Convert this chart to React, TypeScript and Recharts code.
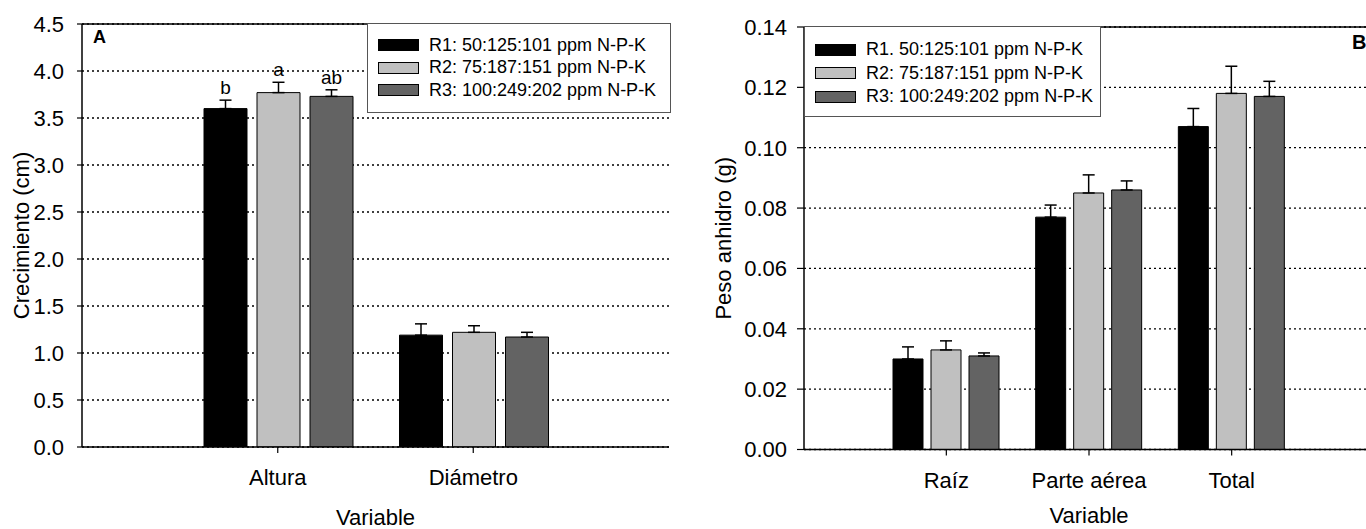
import {
  BarChart,
  Bar,
  XAxis,
  YAxis,
  CartesianGrid,
  ErrorBar,
  Legend,
  LabelList,
  ReferenceLine,
  Label,
} from 'recharts';

const FONT = '"Liberation Sans", Arial, Helvetica, sans-serif';
const COLORS = ['#000000', '#c0c0c0', '#636363'];

// Panel A: crecimiento
const variablesA = ['Altura', 'Diámetro'];
const r1A = [3.6, 1.19];
const r2A = [3.77, 1.22];
const r3A = [3.73, 1.17];
const r1AErr = [0.09, 0.12];
const r2AErr = [0.11, 0.07];
const r3AErr = [0.07, 0.05];
const r1ASig = ['b', ''];
const r2ASig = ['a', ''];
const r3ASig = ['ab', ''];
const ticksA = [0, 0.5, 1, 1.5, 2, 2.5, 3, 3.5, 4, 4.5];
const namesA = ['R1: 50:125:101 ppm N-P-K', 'R2: 75:187:151 ppm N-P-K', 'R3: 100:249:202 ppm N-P-K'];

// Panel B: peso anhidro
const variablesB = ['Raíz', 'Parte aérea', 'Total'];
const r1B = [0.03, 0.077, 0.107];
const r2B = [0.033, 0.085, 0.118];
const r3B = [0.031, 0.086, 0.117];
const r1BErr = [0.004, 0.004, 0.006];
const r2BErr = [0.003, 0.006, 0.009];
const r3BErr = [0.001, 0.003, 0.005];
const ticksB = [0, 0.02, 0.04, 0.06, 0.08, 0.1, 0.12, 0.14];
const namesB = ['R1. 50:125:101 ppm N-P-K', 'R2: 75:187:151 ppm N-P-K', 'R3: 100:249:202 ppm N-P-K'];

const dataA = variablesA.map((name, i) => ({
  name,
  r1: r1A[i],
  r2: r2A[i],
  r3: r3A[i],
  r1Err: [0, r1AErr[i]],
  r2Err: [0, r2AErr[i]],
  r3Err: [0, r3AErr[i]],
  r1Sig: r1ASig[i],
  r2Sig: r2ASig[i],
  r3Sig: r3ASig[i],
}));

const dataB = variablesB.map((name, i) => ({
  name,
  r1: r1B[i],
  r2: r2B[i],
  r3: r3B[i],
  r1Err: [0, r1BErr[i]],
  r2Err: [0, r2BErr[i]],
  r3Err: [0, r3BErr[i]],
}));

// letter above the error bar, placed using the bar's own pixel scale
const sigLabel = (vals: number[], errs: number[]) => (props: any) => {
  const { x, y, width, height, value, index } = props;
  if (!value || index == null) return null;
  const pxPerUnit = height / vals[index];
  const errTop = y - errs[index] * pxPerUnit;
  return (
    <text
      x={x + width / 2}
      y={errTop - 6}
      textAnchor="middle"
      fontSize={19}
      fontFamily={FONT}
      fill="#000"
    >
      {value}
    </text>
  );
};

const yTitle = (text: string, dx: number) => (props: any) => {
  const { viewBox } = props;
  const cx = viewBox.x + viewBox.width - dx;
  const cy = viewBox.y + viewBox.height / 2;
  return (
    <text
      x={cx}
      y={cy}
      transform={`rotate(-90 ${cx} ${cy})`}
      textAnchor="middle"
      dominantBaseline="central"
      fontSize={22}
      fontFamily={FONT}
      fill="#000"
    >
      {text}
    </text>
  );
};

const boxLegend = (padTop: number, padLeft: number, rowH: number) => (props: any) => (
  <div
    style={{
      width: '100%',
      height: '100%',
      boxSizing: 'border-box',
      border: '1.5px solid #555',
      background: '#fff',
      paddingTop: padTop,
      paddingLeft: padLeft,
      fontFamily: FONT,
    }}
  >
    {(props.payload || []).map((entry: any) => (
      <div key={entry.value} style={{ display: 'flex', alignItems: 'center', height: rowH }}>
        <span
          style={{
            display: 'inline-block',
            width: 41,
            height: 12,
            boxSizing: 'border-box',
            border: '1px solid #000',
            background: entry.payload?.fill ?? entry.color,
          }}
        />
        <span style={{ marginLeft: 10, fontSize: 18, color: '#000', whiteSpace: 'nowrap' }}>
          {entry.value}
        </span>
      </div>
    ))}
  </div>
);

const axisLine = { stroke: '#000', strokeWidth: 1.5 };
const tickStyle = { fontSize: 22, fill: '#000', fontFamily: FONT };

export default function App() {
  const keys = ['r1', 'r2', 'r3'];
  const valsA = [r1A, r2A, r3A];
  const errsA = [r1AErr, r2AErr, r3AErr];

  return (
    <div
      style={{
        position: 'absolute',
        left: 0,
        top: 0,
        width: 1366,
        height: 529,
        overflow: 'hidden',
        background: '#fff',
        fontFamily: FONT,
      }}
    >
      <div style={{ position: 'absolute', left: 0, top: 0 }}>
        <BarChart
          width={680}
          height={529}
          data={dataA}
          margin={{ top: 24, right: 11, left: 32, bottom: 32 }}
          barCategoryGap={24}
          barGap={10}
        >
          <CartesianGrid vertical={false} stroke="#000" strokeWidth={1.3} strokeDasharray="2 3" />
          <XAxis
            dataKey="name"
            padding={{ left: 98, right: 98 }}
            height={50}
            tickSize={6}
            tickMargin={16}
            axisLine={axisLine}
            tickLine={{ stroke: '#000', strokeWidth: 1.2 }}
            tick={tickStyle}
          >
            <Label value="Variable" position="bottom" offset={12} fontSize={22} fill="#000" fontFamily={FONT} />
          </XAxis>
          <YAxis
            domain={[0, 4.5]}
            ticks={ticksA}
            tickFormatter={(v: number) => v.toFixed(1)}
            width={50}
            tickSize={5}
            tickMargin={13}
            axisLine={axisLine}
            tickLine={{ stroke: '#000', strokeWidth: 1.2 }}
            tick={tickStyle}
            allowDataOverflow
          >
            <Label content={yTitle('Crecimiento (cm)', 61)} />
          </YAxis>
          <YAxis yAxisId="frame" orientation="right" width={0} tick={false} tickLine={false} axisLine={axisLine} />
          <ReferenceLine y={4.5} stroke="#000" strokeWidth={1.5} />
          <Legend
            layout="vertical"
            align="center"
            verticalAlign="middle"
            wrapperStyle={{ left: 367, top: 23, width: 304, height: 90 }}
            content={boxLegend(10, 10, 22.5)}
          />
          {keys.map((k, i) => (
            <Bar
              key={k}
              dataKey={k}
              name={namesA[i]}
              fill={COLORS[i]}
              stroke="#000"
              strokeWidth={1}
              isAnimationActive={false}
            >
              <ErrorBar dataKey={`${k}Err`} width={6} stroke="#000" strokeWidth={1.5} direction="y" />
              <LabelList dataKey={`${k}Sig`} content={sigLabel(valsA[i], errsA[i])} />
            </Bar>
          ))}
        </BarChart>
        <div
          style={{
            position: 'absolute',
            left: 93,
            top: 28,
            fontSize: 18,
            fontWeight: 'bold',
            lineHeight: 1,
          }}
        >
          A
        </div>
      </div>

      <div style={{ position: 'absolute', left: 690, top: 0 }}>
        <BarChart
          width={700}
          height={529}
          data={dataB}
          margin={{ top: 27, right: 16, left: 54, bottom: 29.5 }}
          barCategoryGap={18}
          barGap={8}
        >
          <CartesianGrid vertical={false} stroke="#000" strokeWidth={1.3} strokeDasharray="2 3" />
          <XAxis
            dataKey="name"
            padding={{ left: 71, right: 71 }}
            height={50}
            tickSize={6}
            tickMargin={17}
            axisLine={axisLine}
            tickLine={{ stroke: '#000', strokeWidth: 1.2 }}
            tick={tickStyle}
          >
            <Label value="Variable" position="bottom" offset={8} fontSize={22} fill="#000" fontFamily={FONT} />
          </XAxis>
          <YAxis
            domain={[0, 0.14]}
            ticks={ticksB}
            tickFormatter={(v: number) => v.toFixed(2)}
            width={60}
            tickSize={7}
            tickMargin={10}
            axisLine={axisLine}
            tickLine={{ stroke: '#000', strokeWidth: 1.2 }}
            tick={tickStyle}
            allowDataOverflow
          >
            <Label content={yTitle('Peso anhidro (g)', 81)} />
          </YAxis>
          <YAxis yAxisId="frame" orientation="right" width={0} tick={false} tickLine={false} axisLine={axisLine} />
          <ReferenceLine y={0.14} stroke="#000" strokeWidth={1.5} />
          <Legend
            layout="vertical"
            align="center"
            verticalAlign="middle"
            wrapperStyle={{ left: 114, top: 26, width: 297, height: 91 }}
            content={boxLegend(11, 10, 23.5)}
          />
          {keys.map((k, i) => (
            <Bar
              key={k}
              dataKey={k}
              name={namesB[i]}
              fill={COLORS[i]}
              stroke="#000"
              strokeWidth={1}
              isAnimationActive={false}
            >
              <ErrorBar dataKey={`${k}Err`} width={6} stroke="#000" strokeWidth={1.5} direction="y" />
            </Bar>
          ))}
        </BarChart>
        <div
          style={{
            position: 'absolute',
            left: 662,
            top: 32,
            fontSize: 20,
            fontWeight: 'bold',
            lineHeight: 1,
          }}
        >
          B
        </div>
      </div>
    </div>
  );
}
